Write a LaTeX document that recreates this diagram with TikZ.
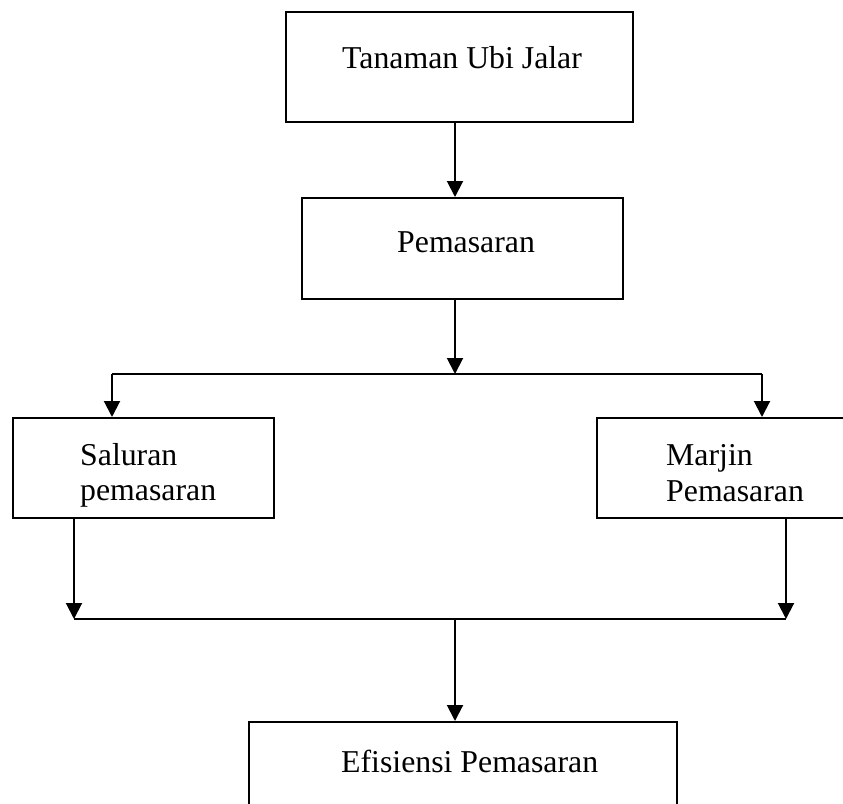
\documentclass[tikz,border=0pt]{standalone}
\usepackage{fontspec}
\setmainfont{Liberation Serif}
\usetikzlibrary{arrows.meta}
\begin{document}
\begin{tikzpicture}[x=1pt,y=-1pt,
  box/.style={draw=black,line width=2pt,rectangle,inner sep=0pt,anchor=north west},
  lbl/.style={anchor=base west,inner sep=0pt,font=\fontsize{31.8}{35}\selectfont},
  conn/.style={draw=black,line width=2pt},
  arr/.style={conn,-{Triangle[width=16pt,length=16pt]}}]
\clip (0,0) rectangle (843,803);
% boxes
\node[box,minimum width=347pt,minimum height=110pt] (top) at (285,11) {};
\node[box,minimum width=321pt,minimum height=101pt] (pem) at (301,197) {};
\node[box,minimum width=261pt,minimum height=100pt] (sal) at (12,417) {};
\node[box,minimum width=270pt,minimum height=100pt] (mar) at (596,417) {};
\node[box,minimum width=428pt,minimum height=110pt] (eff) at (248,721) {};
% texts
\node[lbl] (ttop) at (342,68) {Tanaman Ubi Jalar};
\node[lbl] (tpem) at (397,252) {Pemasaran};
\node[lbl] (tsal1) at (80,465) {Saluran};
\node[lbl] (tsal2) at (80,500) {pemasaran};
\node[lbl] (tmar1) at (666,465) {Marjin};
\node[lbl] (tmar2) at (666,501) {Pemasaran};
\node[lbl] (teff) at (341,772) {Efisiensi Pemasaran};
% guide coordinates
\coordinate (spine) at (455,0);
\coordinate (splitL) at (112,374);
\coordinate (splitR) at (762,374);
\coordinate (splitM) at (455,374);
\coordinate (joinL) at (74,619);
\coordinate (joinR) at (786,619);
\coordinate (joinM) at (455,619);
% connectors
\draw[arr] (top.south -| spine) -- (pem.north -| spine);
\draw[arr] (pem.south -| spine) -- (splitM);
\draw[conn] (splitL) -- (splitR);
\draw[arr] (splitL) -- (sal.north -| splitL);
\draw[arr] (splitR) -- (mar.north -| splitR);
\draw[arr] (sal.south -| joinL) -- (joinL);
\draw[arr] (mar.south -| joinR) -- (joinR);
\draw[conn] (joinL) -- (joinR);
\draw[arr] (joinM) -- (eff.north -| joinM);
\end{tikzpicture}
\end{document}
